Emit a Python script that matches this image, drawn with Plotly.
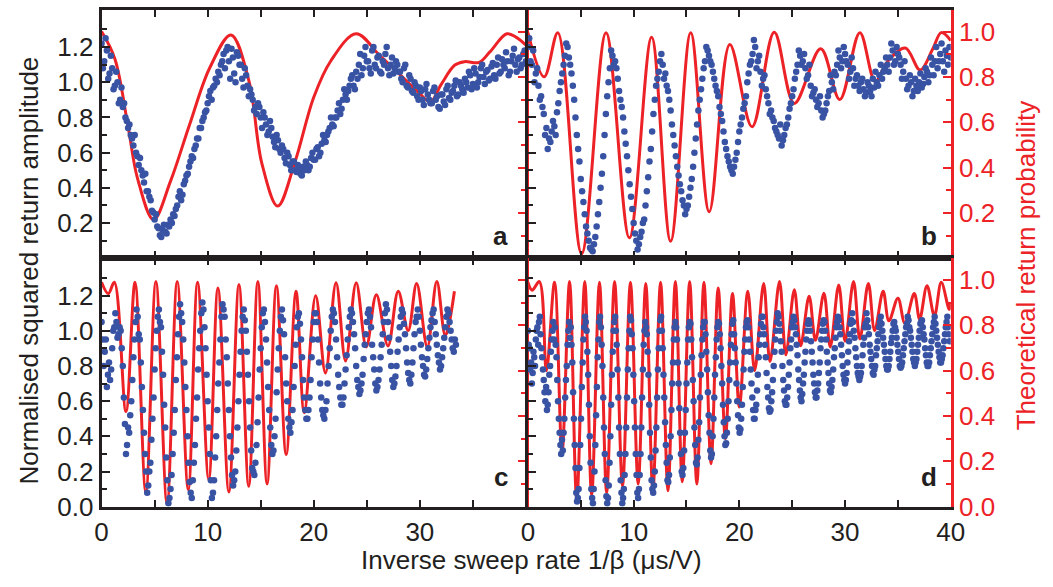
import numpy as np
import plotly.graph_objects as go

# ------------------------------------------------------------------ data
# Panel a -- theory (red, right axis) control points
a_theory_x = [0, 1.25, 2.5, 3.4, 4.9, 6.5, 8.3, 10.2, 12.2, 13.9, 15.1, 16.6, 18.2, 20.0, 21.6, 24.0,
              26.2, 27.7, 29.9, 31.0, 32.0, 33.3, 34.2, 35.6, 36.6, 38.2, 39.1, 40]
a_theory_y = [1.0, 0.88, 0.58, 0.35, 0.17, 0.34, 0.59, 0.84, 0.985, 0.78, 0.42, 0.23, 0.42, 0.71, 0.87, 0.99,
              0.895, 0.83, 0.73, 0.69, 0.766, 0.852, 0.867, 0.864, 0.91, 0.99, 0.974, 0.94]
# Panel a -- measured (blue, left axis): samples every 0.25 starting at 0, and a second set starting at 0.125
a_step = 0.25
a_data = [1.22,
          1.12, 1.18, 1.05, 1.08, 0.98, 1.0, 0.9, 0.86, 0.8, 0.74, 0.7, 0.64, 0.6, 0.53, 0.5, 0.43,
          0.38, 0.35, 0.27, 0.22, 0.18, 0.13, 0.16, 0.15, 0.19, 0.22, 0.25, 0.28, 0.35, 0.33, 0.42, 0.47,
          0.52, 0.58, 0.62, 0.68, 0.74, 0.78, 0.83, 0.88, 0.95, 0.97, 1.02, 1.06, 1.1, 1.16, 1.18, 1.12,
          1.19, 1.05, 1.17, 1.1, 1.02, 1.08, 0.98, 0.96, 0.9, 0.86, 0.88, 0.8, 0.83, 0.76, 0.72, 0.74,
          0.66, 0.7, 0.62, 0.64, 0.57, 0.6, 0.53, 0.55, 0.5, 0.53, 0.48, 0.52, 0.55, 0.5, 0.57, 0.56,
          0.62, 0.58, 0.65, 0.67, 0.7, 0.74, 0.76, 0.8, 0.84, 0.82, 0.9, 0.93, 0.95, 1.02, 0.98, 1.06,
          1.1, 1.04, 1.15, 1.12, 1.08, 1.18, 1.1, 1.14, 1.06, 1.12, 1.16, 1.08, 1.1, 1.05, 1.12, 1.06,
          1.02, 1.08, 0.98, 1.04, 0.95, 1.0, 0.92, 0.97, 0.9, 0.96, 0.93, 0.88, 0.95, 0.9, 0.86, 0.93,
          0.89, 0.96, 0.91, 0.94, 0.98, 0.92, 1.0, 0.96, 1.02, 0.97, 1.04, 0.99, 1.05, 1.0, 1.08, 1.03,
          1.06, 1.01, 1.09, 1.04, 1.1, 1.05, 1.13, 1.08, 1.12, 1.06, 1.15, 1.1, 1.13, 1.08, 1.16, 1.12]
a_data2 = [1.08, 1.25, 1.02, 1.15, 0.96, 1.06, 0.88, 0.97, 0.88, 0.78, 0.76, 0.68, 0.7, 0.58, 0.57, 0.47,
           0.48, 0.38, 0.33, 0.26, 0.25, 0.17, 0.12, 0.19, 0.14, 0.18, 0.2, 0.24, 0.3, 0.38, 0.36, 0.44,
           0.48, 0.55, 0.57, 0.64, 0.68, 0.74, 0.8, 0.84, 0.92, 0.9, 0.98, 1.0, 1.04, 1.12, 1.08, 1.2,
           1.02, 1.14, 1.0, 1.15, 1.1, 0.97, 1.04, 0.92, 0.93, 0.84, 0.82, 0.86, 0.74, 0.8, 0.7, 0.78,
           0.69, 0.63, 0.67, 0.6, 0.62, 0.54, 0.58, 0.5, 0.55, 0.49, 0.51, 0.47, 0.5, 0.53, 0.52, 0.6,
           0.56, 0.63, 0.6, 0.7, 0.66, 0.72, 0.8, 0.75, 0.8, 0.88, 0.85, 0.96, 0.9, 0.98, 1.04, 0.96,
           1.02, 1.16, 1.08, 1.2, 1.12, 1.05, 1.2, 1.08, 1.15, 1.05, 1.1, 1.2, 1.04, 1.14, 1.08, 1.1,
           1.06, 1.0, 1.1, 0.97, 1.02, 0.94, 0.98, 0.9, 0.95, 0.87, 0.99, 0.9, 0.88, 0.97, 0.92, 0.85,
           0.93, 0.87, 0.98, 0.9, 0.95, 1.01, 0.93, 0.98, 0.94, 1.0, 1.06, 0.96, 1.08, 0.97, 1.03, 1.1,
           0.99, 1.07, 1.02, 1.11, 1.02, 1.14, 1.06, 1.1, 1.17, 1.04, 1.12, 1.19, 1.06, 1.14, 1.1, 1.18]

# Panel b
b_theory_x = [0, 1.54, 2.83, 5.08, 7.39, 9.6, 11.7, 13.5, 15.4, 17.15, 19.1, 21.2, 23.3, 25.2, 27.7,
              29.5, 31.4, 32.85, 34.0, 35.7, 37.1, 38.3, 39.1, 40]
b_theory_y = [0.995, 0.80, 0.995, 0.02, 0.995, 0.09, 0.975, 0.075, 0.995, 0.205, 0.943, 0.58, 0.997, 0.683,
              0.924, 0.70, 0.995, 0.78, 0.867, 0.927, 0.83, 0.924, 0.995, 0.96]
b_step = 0.25
b_data = [1.2,
          1.12, 1.18, 1.05, 0.98, 0.92, 0.82, 0.74, 0.68, 0.72, 0.75, 0.83, 0.95, 1.05, 1.15, 1.2, 1.1,
          0.98, 0.8, 0.62, 0.45, 0.32, 0.18, 0.1, 0.05, 0.08, 0.18, 0.32, 0.48, 0.7, 0.92, 1.08, 1.15,
          1.12, 1.02, 0.9, 0.8, 0.65, 0.5, 0.35, 0.2, 0.1, 0.08, 0.15, 0.22, 0.38, 0.55, 0.72, 0.9,
          1.02, 1.12, 1.1, 1.05, 0.95, 0.84, 0.7, 0.58, 0.47, 0.38, 0.3, 0.28, 0.35, 0.45, 0.6, 0.76,
          0.9, 1.02, 1.12, 1.18, 1.12, 1.06, 0.98, 0.92, 0.82, 0.72, 0.62, 0.55, 0.5, 0.52, 0.6, 0.72,
          0.8, 0.88, 1.0, 1.1, 1.16, 1.2, 1.12, 1.06, 1.02, 0.96, 0.88, 0.84, 0.78, 0.72, 0.68, 0.64,
          0.7, 0.76, 0.85, 0.92, 1.02, 1.1, 1.15, 1.12, 1.08, 1.04, 0.98, 0.94, 0.9, 0.88, 0.84, 0.82,
          0.88, 0.95, 1.0, 1.06, 1.1, 1.14, 1.12, 1.16, 1.1, 1.06, 1.08, 1.02, 0.98, 1.0, 0.96, 0.94,
          0.98, 0.92, 0.97, 1.0, 1.04, 1.02, 1.08, 1.1, 1.14, 1.18, 1.12, 1.16, 1.1, 1.06, 1.02, 0.98,
          1.0, 0.95, 0.98, 1.0, 0.97, 1.03, 1.06, 1.04, 1.1, 1.12, 1.08, 1.16, 1.12, 1.18, 1.1, 1.14]
b_data2 = [1.25, 1.1, 1.0, 1.08, 0.9, 0.86, 0.7, 0.62, 0.66, 0.78, 0.7, 0.88, 1.0, 1.1, 1.22, 1.14,
           1.05, 0.9, 0.7, 0.55, 0.38, 0.25, 0.14, 0.06, 0.04, 0.12, 0.25, 0.4, 0.58, 0.82, 1.0, 1.18,
           1.1, 1.08, 0.95, 0.86, 0.72, 0.58, 0.42, 0.28, 0.14, 0.05, 0.12, 0.2, 0.3, 0.46, 0.62, 0.82,
           0.98, 1.06, 1.16, 1.02, 0.98, 0.9, 0.76, 0.64, 0.52, 0.42, 0.33, 0.25, 0.3, 0.4, 0.52, 0.68,
           0.84, 0.96, 1.08, 1.2, 1.15, 1.1, 1.02, 0.95, 0.86, 0.78, 0.66, 0.58, 0.52, 0.48, 0.56, 0.66,
           0.76, 0.85, 0.92, 1.05, 1.12, 1.24, 1.08, 1.15, 0.98, 1.04, 0.92, 0.82, 0.8, 0.74, 0.7, 0.76,
           0.67, 0.74, 0.8, 0.88, 0.96, 1.06, 1.18, 1.1, 1.16, 1.02, 1.1, 0.92, 0.96, 0.86, 0.92, 0.8,
           0.84, 0.92, 1.04, 0.96, 1.04, 1.18, 1.08, 1.2, 1.12, 1.02, 1.14, 0.98, 1.04, 0.95, 1.02, 0.92,
           1.0, 0.95, 1.02, 1.06, 0.98, 1.1, 1.06, 1.14, 1.06, 1.22, 1.1, 1.2, 1.14, 1.02, 1.12, 0.96,
           1.04, 0.92, 1.02, 0.95, 1.05, 0.99, 1.08, 1.0, 1.14, 1.04, 1.2, 1.12, 1.22, 1.06, 1.15, 1.2]

# Panel c
c_theory_x = [0, 0.63, 1.2, 2.3, 3.15, 4.17, 5.12, 6.17, 7.13, 8.17, 9.05, 10.1, 10.97, 12.0, 12.95, 13.87,
              14.73, 15.6, 16.48, 17.4, 18.33, 19.1, 20.18, 21.1, 22.1, 23.0, 24.0, 24.95, 25.9, 27.0,
              27.96, 28.9, 29.7, 30.7, 31.6, 32.4, 33.26]
c_theory_y = [0.99, 0.94, 0.99, 0.42, 0.99, 0.065, 0.993, 0.014, 0.993, 0.075, 0.99, 0.12, 0.965, 0.065,
              0.98, 0.09, 0.993, 0.1, 0.975, 0.23, 0.95, 0.415, 0.93, 0.59, 0.988, 0.643, 0.988, 0.705,
              0.935, 0.709, 0.95, 0.777, 0.985, 0.705, 0.993, 0.755, 0.95]
c_step = 0.2
c_data = [1.05, 0.8, 0.95, 0.75, 0.72, 0.9, 1.02, 1.05, 0.98, 1.0,
          0.8, 0.47, 0.35, 0.42, 0.6, 0.85, 1.05, 1.08, 0.95, 0.68,
          0.42, 0.2, 0.12, 0.25, 0.5, 0.78, 1.0, 1.12, 1.02, 0.75,
          0.45, 0.15, 0.05, 0.18, 0.42, 0.72, 0.98, 1.15, 1.05, 0.82,
          0.55, 0.25, 0.08, 0.15, 0.35, 0.62, 0.9, 1.1, 1.12, 0.9,
          0.6, 0.3, 0.05, 0.15, 0.4, 0.7, 0.95, 1.15, 1.08, 0.85,
          0.55, 0.28, 0.12, 0.2, 0.45, 0.75, 1.0, 1.12, 1.0, 0.75,
          0.45, 0.22, 0.18, 0.35, 0.62, 0.9, 1.1, 1.05, 0.82, 0.55,
          0.35, 0.32, 0.5, 0.78, 1.0, 1.12, 0.98, 0.7, 0.5, 0.42,
          0.55, 0.8, 1.02, 1.1, 0.95, 0.72, 0.55, 0.5, 0.62, 0.85,
          1.05, 1.1, 0.95, 0.7, 0.55, 0.5, 0.6, 0.8, 1.0, 1.12,
          1.05, 0.85, 0.68, 0.58, 0.62, 0.78, 0.95, 1.08, 1.1, 0.98,
          0.8, 0.68, 0.66, 0.75, 0.92, 1.05, 1.12, 1.02, 0.85, 0.7,
          0.68, 0.78, 0.92, 1.05, 1.15, 1.05, 0.88, 0.72, 0.7, 0.8,
          0.95, 1.08, 1.1, 0.98, 0.82, 0.72, 0.75, 0.9, 1.05, 1.12,
          1.0, 0.85, 0.75, 0.78, 0.9, 1.02, 1.1, 1.05, 0.92, 0.82,
          0.8, 0.9, 1.02, 1.12, 1.05, 0.95, 0.88, 0.92]
c_data2 = [0.95, 0.88, 0.68, 0.82, 0.78, 1.0, 1.1, 0.96, 1.02, 0.9,
           0.62, 0.3, 0.45, 0.52, 0.72, 0.95, 1.12, 0.98, 0.82, 0.55,
           0.3, 0.08, 0.2, 0.38, 0.62, 0.9, 1.08, 1.05, 0.88, 0.58,
           0.28, 0.02, 0.1, 0.3, 0.55, 0.85, 1.08, 1.1, 0.95, 0.68,
           0.4, 0.14, 0.05, 0.25, 0.5, 0.78, 1.0, 1.16, 1.02, 0.75,
           0.45, 0.15, 0.08, 0.28, 0.55, 0.82, 1.08, 1.12, 0.95, 0.7,
           0.4, 0.18, 0.15, 0.32, 0.6, 0.88, 1.08, 1.06, 0.88, 0.6,
           0.32, 0.2, 0.25, 0.48, 0.78, 1.02, 1.12, 0.95, 0.68, 0.45,
           0.3, 0.4, 0.65, 0.9, 1.08, 1.06, 0.85, 0.6, 0.45, 0.48,
           0.68, 0.92, 1.08, 1.04, 0.85, 0.62, 0.5, 0.55, 0.72, 0.95,
           1.1, 1.05, 0.82, 0.62, 0.52, 0.55, 0.7, 0.9, 1.08, 1.1,
           0.95, 0.75, 0.62, 0.58, 0.7, 0.86, 1.02, 1.12, 1.05, 0.9,
           0.72, 0.64, 0.7, 0.84, 0.98, 1.1, 1.08, 0.92, 0.78, 0.66,
           0.72, 0.85, 0.98, 1.1, 1.12, 0.96, 0.8, 0.68, 0.74, 0.88,
           1.02, 1.12, 1.04, 0.9, 0.76, 0.7, 0.82, 0.98, 1.08, 1.08,
           0.92, 0.8, 0.74, 0.84, 0.96, 1.06, 1.12, 0.98, 0.86, 0.78,
           0.85, 0.96, 1.08, 1.1, 1.0, 0.9, 0.95]

# Panel d
d_theory_x = [0, 0.4, 1.08, 1.75, 2.52, 3.23, 3.94, 4.62, 5.38, 6.03, 6.77, 7.45, 8.2, 8.95, 9.7, 10.43,
              11.15, 11.82, 12.55, 13.25, 13.95, 14.6, 15.3, 15.98, 16.65, 17.32, 18.0, 18.68, 19.35, 20.0,
              20.8, 21.45, 22.3, 22.9, 23.8, 24.4, 25.2, 25.8, 26.6, 27.2, 28.0, 28.6, 29.4, 30.0, 30.8,
              31.4, 32.2, 32.8, 33.6, 34.15, 35.0, 35.65, 36.55, 37.05, 37.75, 38.45, 39.1, 39.85, 40]
d_theory_y = [0.99, 0.955, 0.993, 0.6, 0.99, 0.24, 0.993, 0.03, 0.993, 0.05, 0.99, 0.06, 0.993, 0.09, 0.99,
              0.1, 0.985, 0.07, 0.99, 0.07, 0.993, 0.11, 0.993, 0.1, 0.99, 0.19, 0.965, 0.3, 0.94, 0.44,
              0.95, 0.6, 0.985, 0.64, 0.993, 0.67, 0.957, 0.71, 0.928, 0.734, 0.942, 0.705, 0.978, 0.73,
              0.993, 0.74, 0.985, 0.777, 0.95, 0.82, 0.92, 0.81, 0.94, 0.827, 0.975, 0.842, 0.99, 0.87, 0.9]
d_step = 0.15
d_data = [1.0, 0.9, 0.82, 0.76, 0.85, 0.95, 1.02, 1.05, 0.98, 0.85,
          0.72, 0.6, 0.55, 0.65, 0.8, 0.95, 1.05, 1.02, 0.85, 0.6,
          0.42, 0.3, 0.32, 0.5, 0.72, 0.92, 1.05, 1.02, 0.82, 0.5,
          0.22, 0.03, 0.1, 0.35, 0.68, 0.95, 1.08, 1.0, 0.75, 0.4,
          0.1, 0.02, 0.2, 0.52, 0.85, 1.05, 1.02, 0.8, 0.45, 0.15,
          0.02, 0.12, 0.4, 0.75, 1.0, 1.08, 0.92, 0.62, 0.3, 0.08,
          0.05, 0.18, 0.45, 0.78, 1.0, 1.06, 0.9, 0.6, 0.3, 0.08,
          0.1, 0.3, 0.62, 0.92, 1.05, 0.98, 0.75, 0.42, 0.15, 0.08,
          0.2, 0.45, 0.78, 1.0, 1.08, 0.9, 0.62, 0.35, 0.15, 0.18,
          0.4, 0.7, 0.95, 1.05, 0.95, 0.7, 0.42, 0.2, 0.22, 0.42,
          0.7, 0.95, 1.05, 0.95, 0.72, 0.45, 0.25, 0.28, 0.48, 0.75,
          0.95, 1.05, 0.98, 0.78, 0.52, 0.32, 0.3, 0.5, 0.75, 0.95,
          1.05, 0.98, 0.8, 0.58, 0.4, 0.36, 0.5, 0.72, 0.92, 1.04,
          0.98, 0.82, 0.6, 0.45, 0.44, 0.58, 0.78, 0.95, 1.05, 1.02,
          0.88, 0.7, 0.55, 0.5, 0.58, 0.75, 0.92, 1.04, 1.08, 0.98,
          0.85, 0.68, 0.56, 0.55, 0.65, 0.8, 0.95, 1.05, 1.08, 1.0,
          0.88, 0.72, 0.6, 0.58, 0.68, 0.82, 0.95, 1.05, 1.06, 0.98,
          0.86, 0.72, 0.62, 0.64, 0.75, 0.88, 1.0, 1.06, 1.0, 0.88,
          0.75, 0.65, 0.62, 0.7, 0.82, 0.95, 1.04, 1.05, 0.95, 0.82,
          0.7, 0.65, 0.72, 0.85, 0.96, 1.05, 1.06, 0.98, 0.86, 0.75,
          0.7, 0.76, 0.88, 0.98, 1.06, 1.05, 0.96, 0.85, 0.76, 0.72,
          0.76, 0.86, 0.96, 1.04, 1.06, 0.98, 0.88, 0.8, 0.75, 0.8,
          0.9, 0.98, 1.05, 1.04, 0.96, 0.88, 0.8, 0.78, 0.84, 0.93,
          1.0, 1.05, 1.0, 0.92, 0.84, 0.79, 0.82, 0.9, 0.98, 1.04,
          1.06, 1.0, 0.92, 0.84, 0.8, 0.84, 0.92, 1.0, 1.05, 1.02,
          0.95, 0.86, 0.8, 0.82, 0.9, 0.98, 1.05, 1.04, 0.96, 0.88,
          0.82, 0.84, 0.9, 0.98, 1.05, 1.02, 0.94]
d_data2 = [0.92, 0.78, 0.7, 0.88, 0.8, 1.0, 0.92, 1.08, 0.9, 0.78,
           0.65, 0.68, 0.58, 0.75, 0.88, 1.0, 0.95, 0.92, 0.72, 0.5,
           0.35, 0.38, 0.42, 0.62, 0.8, 1.0, 0.96, 0.92, 0.65, 0.35,
           0.08, 0.05, 0.22, 0.5, 0.82, 1.02, 1.05, 0.88, 0.58, 0.25,
           0.05, 0.1, 0.35, 0.68, 0.95, 1.08, 0.92, 0.62, 0.3, 0.06,
           0.05, 0.25, 0.58, 0.88, 1.05, 1.0, 0.78, 0.45, 0.15, 0.02,
           0.1, 0.3, 0.62, 0.9, 1.08, 0.98, 0.75, 0.45, 0.18, 0.05,
           0.18, 0.45, 0.78, 1.0, 1.02, 0.88, 0.58, 0.28, 0.1, 0.12,
           0.32, 0.62, 0.9, 1.06, 1.0, 0.75, 0.48, 0.25, 0.14, 0.28,
           0.55, 0.82, 1.02, 1.02, 0.82, 0.56, 0.3, 0.18, 0.32, 0.55,
           0.82, 1.02, 1.04, 0.85, 0.6, 0.35, 0.24, 0.38, 0.62, 0.86,
           1.02, 1.05, 0.88, 0.65, 0.42, 0.28, 0.4, 0.62, 0.85, 1.02,
           1.04, 0.9, 0.7, 0.48, 0.35, 0.42, 0.6, 0.82, 0.98, 1.06,
           0.9, 0.7, 0.52, 0.42, 0.5, 0.68, 0.88, 1.02, 1.06, 0.95,
           0.78, 0.62, 0.5, 0.55, 0.66, 0.85, 0.98, 1.08, 1.02, 0.92,
           0.76, 0.62, 0.54, 0.6, 0.72, 0.88, 1.0, 1.1, 1.04, 0.94,
           0.8, 0.66, 0.58, 0.62, 0.75, 0.9, 1.02, 1.08, 1.02, 0.92,
           0.78, 0.66, 0.6, 0.7, 0.82, 0.95, 1.04, 1.04, 0.94, 0.82,
           0.7, 0.62, 0.66, 0.76, 0.9, 1.0, 1.06, 1.0, 0.88, 0.76,
           0.66, 0.68, 0.78, 0.9, 1.02, 1.08, 1.02, 0.92, 0.8, 0.72,
           0.72, 0.82, 0.94, 1.04, 1.1, 1.0, 0.9, 0.8, 0.74, 0.74,
           0.8, 0.92, 1.02, 1.1, 1.02, 0.92, 0.84, 0.76, 0.78, 0.86,
           0.94, 1.02, 1.08, 1.0, 0.92, 0.84, 0.78, 0.8, 0.88, 0.96,
           1.04, 1.02, 0.96, 0.88, 0.8, 0.8, 0.86, 0.94, 1.02, 1.08,
           1.02, 0.96, 0.88, 0.82, 0.82, 0.88, 0.96, 1.04, 1.06, 0.98,
           0.9, 0.82, 0.8, 0.86, 0.94, 1.02, 1.08, 1.0, 0.92, 0.85,
           0.82, 0.86, 0.94, 1.02, 1.08, 0.98]

x_tick_vals = [0, 5, 10, 15, 20, 25, 30, 35, 40]
x_tick_text_left = ["0", "", "10", "", "20", "", "30", "", ""]
x_tick_text_right = ["0", "", "10", "", "20", "", "30", "", "40"]
left_major_top = [0.2, 0.4, 0.6, 0.8, 1.0, 1.2]
left_major_bottom = [0.0, 0.2, 0.4, 0.6, 0.8, 1.0, 1.2]
left_minor = [0.1, 0.3, 0.5, 0.7, 0.9, 1.1, 1.3]
right_major_top = [0.2, 0.4, 0.6, 0.8, 1.0]
right_major_bottom = [0.0, 0.2, 0.4, 0.6, 0.8, 1.0]
right_minor = [0.1, 0.3, 0.5, 0.7, 0.9]

left_title = "Normalised squared return amplitude"
right_title = "Theoretical return probability"
x_title = "Inverse sweep rate 1/β (μs/V)"

# ------------------------------------------------------------------ style
W, H = 1053, 587
FONT = "Liberation Sans, Arial, Helvetica, sans-serif"
FS = 26
INK = "#231f20"
RED = "#ec2227"
BLUE = "#3953a4"


def fx(p):
    return p / W


def fy(p):
    return 1 - p / H


cols = [(fx(96.5), fx(529.5)), (fx(531.5), fx(963))]
rows = [(fy(265), fy(10)), (fy(520), fy(265))]

panels = [
    dict(letter="a", row=0, col=0, tx=a_theory_x, ty=a_theory_y, step=a_step, data=[a_data, a_data2]),
    dict(letter="b", row=0, col=1, tx=b_theory_x, ty=b_theory_y, step=b_step, data=[b_data, b_data2]),
    dict(letter="c", row=1, col=0, tx=c_theory_x, ty=c_theory_y, step=c_step, data=[c_data, c_data2]),
    dict(letter="d", row=1, col=1, tx=d_theory_x, ty=d_theory_y, step=d_step, data=[d_data, d_data2]),
]

fig = go.Figure()
layout = {}
annotations = []
for i, p in enumerate(panels, start=1):
    xname = "xaxis" if i == 1 else f"xaxis{i}"
    xref = "x" if i == 1 else f"x{i}"
    ri, bi = 2 * i - 1, 2 * i
    rname = "yaxis" if ri == 1 else f"yaxis{ri}"
    rref = "y" if ri == 1 else f"y{ri}"
    bname = f"yaxis{bi}"
    bref = f"y{bi}"
    top = p["row"] == 0
    left = p["col"] == 0

    fig.add_trace(go.Scatter(x=p["tx"], y=p["ty"], mode="lines",
                             line=dict(color=RED, width=3, shape="spline", smoothing=1.0),
                             xaxis=xref, yaxis=rref, showlegend=False, hoverinfo="skip"))
    for k, series in enumerate(p["data"]):
        offset = 0.0 if k == 0 else p["step"] / 2
        xs = np.round(offset + np.arange(len(series)) * p["step"], 3)
        fig.add_trace(go.Scatter(x=xs, y=series, mode="markers",
                                 marker=dict(size=6.5, color=BLUE, line=dict(width=0)),
                                 xaxis=xref, yaxis=bref, showlegend=False, hoverinfo="skip"))

    layout[xname] = dict(
        domain=list(cols[p["col"]]), anchor=rref, range=[0, 40],
        showline=True, linecolor=INK, linewidth=3, mirror="ticks",
        ticks="inside", ticklen=7, tickwidth=2, tickcolor=INK,
        tickmode="array", tickvals=x_tick_vals,
        ticktext=x_tick_text_left if left else x_tick_text_right,
        showticklabels=not top, showgrid=False, zeroline=False,
        tickfont=dict(family=FONT, size=FS, color=INK),
    )
    layout[rname] = dict(
        domain=list(rows[p["row"]]), anchor=xref, side="right", range=[0, 1.096],
        showline=True, linecolor=RED, linewidth=3,
        ticks="inside", ticklen=8, tickwidth=2, tickcolor=RED,
        tickmode="array", tickvals=right_major_top if top else right_major_bottom,
        ticktext=[f"{v:.1f}" for v in (right_major_top if top else right_major_bottom)],
        minor=dict(tickmode="array", tickvals=right_minor, ticklen=5, tickwidth=2,
                   tickcolor=RED, ticks="inside", showgrid=False),
        showticklabels=not left, showgrid=False, zeroline=False,
        tickfont=dict(family=FONT, size=FS, color=RED),
    )
    layout[bname] = dict(
        overlaying=rref, anchor=xref, side="left", range=[0, 1.412],
        showline=True, linecolor=INK, linewidth=3,
        ticks="inside", ticklen=8, tickwidth=2, tickcolor=INK,
        tickmode="array", tickvals=left_major_top if top else left_major_bottom,
        ticktext=[f"{v:.1f}" for v in (left_major_top if top else left_major_bottom)],
        minor=dict(tickmode="array", tickvals=left_minor, ticklen=5, tickwidth=2,
                   tickcolor=INK, ticks="inside", showgrid=False),
        showticklabels=left, showgrid=False, zeroline=False,
        tickfont=dict(family=FONT, size=FS, color=INK),
    )
    lx = 504 if left else 941
    ly = 242 if top else 489
    annotations.append(dict(text=f"<b>{p['letter']}</b>", x=fx(lx), y=fy(ly), xref="paper", yref="paper",
                            xanchor="center", yanchor="middle", showarrow=False,
                            font=dict(family=FONT, size=FS, color=INK)))

annotations += [
    dict(text=left_title, x=fx(22), y=fy(278), xref="paper", yref="paper", textangle=-90,
         xanchor="center", yanchor="middle", showarrow=False, font=dict(family=FONT, size=FS, color=INK)),
    dict(text=right_title, x=fx(1040), y=fy(272), xref="paper", yref="paper", textangle=-90,
         xanchor="center", yanchor="middle", showarrow=False, font=dict(family=FONT, size=FS, color=RED)),
    dict(text=x_title, x=fx(535), y=fy(575), xref="paper", yref="paper",
         xanchor="center", yanchor="middle", showarrow=False, font=dict(family=FONT, size=FS, color=INK)),
]

fig.update_layout(width=W, height=H, autosize=False, margin=dict(l=0, r=0, t=0, b=0),
                  paper_bgcolor="white", plot_bgcolor="rgba(0,0,0,0)",
                  annotations=annotations, showlegend=False,
                  font=dict(family=FONT, size=FS, color=INK), **layout)

# make the page exactly the figure size (no default body margin / scrollbars)
page_css = ("document.documentElement.style.margin='0px';document.body.style.margin='0px';"
            "document.body.style.padding='0px';document.documentElement.style.overflow='hidden';"
            "document.body.style.overflow='hidden';")
fig.write_html("out.html", post_script="});" + page_css + "(function(){")
